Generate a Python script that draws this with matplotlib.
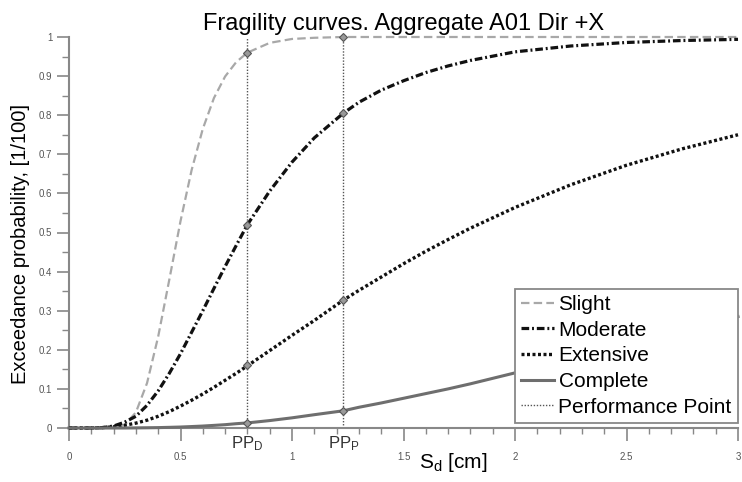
import numpy as np
import matplotlib
matplotlib.use("Agg")
from matplotlib import pyplot as plt
from matplotlib.lines import Line2D

plt.rcParams['font.family'] = ['Liberation Sans', 'DejaVu Sans']
plt.rcParams['mathtext.fontset'] = 'custom'
plt.rcParams['mathtext.rm'] = 'Liberation Sans'
plt.rcParams['mathtext.it'] = 'Liberation Sans:italic'

# spectral displacement [cm]
sd = [0, 0.1, 0.15, 0.2, 0.25, 0.3, 0.35, 0.4, 0.45, 0.5, 0.55, 0.6, 0.65, 0.7,
      0.75, 0.8, 0.9, 1.0, 1.1, 1.23, 1.3, 1.4, 1.5, 1.6, 1.7, 1.8, 2.0, 2.25, 2.5, 2.75, 3.0]

slight = [0, 0, 0, 0.001, 0.008, 0.040, 0.115, 0.234, 0.38, 0.529, 0.66, 0.765, 0.844, 0.899,
          0.936, 0.960, 0.985, 0.995, 0.998, 1.0, 1.0, 1.0, 1.0, 1.0, 1.0, 1.0, 1.0, 1.0, 1.0, 1.0, 1.0]
moderate = [0, 0, 0.001, 0.005, 0.015, 0.03, 0.058, 0.095, 0.14, 0.19, 0.245, 0.30, 0.357, 0.413,
            0.467, 0.52, 0.606, 0.68, 0.742, 0.805, 0.833, 0.864, 0.888, 0.909, 0.926, 0.94,
            0.962, 0.977, 0.986, 0.991, 0.994]
extensive = [0, 0.0001, 0.001, 0.003, 0.007, 0.0125, 0.02, 0.030, 0.042, 0.056, 0.071, 0.087, 0.104, 0.122,
             0.14, 0.159, 0.198, 0.237, 0.275, 0.327, 0.352, 0.386, 0.42, 0.452, 0.482, 0.511,
             0.564, 0.622, 0.672, 0.714, 0.750]
complete = [0, 0, 0, 0, 0, 0.0003, 0.0006, 0.001, 0.0017, 0.0025, 0.0037, 0.005, 0.0067, 0.0085,
            0.011, 0.013, 0.019, 0.026, 0.034, 0.044, 0.053, 0.064, 0.076, 0.088, 0.100, 0.113,
            0.141, 0.176, 0.213, 0.249, 0.285]

pp_x = [0.8, 1.23]
pp_names = ["PP$_\\mathrm{D}$", "PP$_\\mathrm{P}$"]
pp_slight = [0.96, 1.0]
pp_moderate = [0.52, 0.805]
pp_extensive = [0.16, 0.327]
pp_complete = [0.013, 0.044]

fig = plt.figure(figsize=(7.42, 4.82), dpi=100)
ax = fig.add_axes([69/742, 54/482, 669/742, 391/482])

ax.vlines(pp_x, 0, 1, colors="#555555", linestyles=(0, (1, 1.2)), linewidth=1.0, zorder=1)

l1, = ax.plot(sd, slight, color="#a8a8a8", lw=1.6, dashes=(3.8, 1.9), clip_on=False, zorder=3)
l2, = ax.plot(sd, moderate, color="#111111", lw=2.3, dashes=(2.4, 0.9, 0.6, 0.9), clip_on=False, zorder=3)
l3, = ax.plot(sd, extensive, color="#111111", lw=2.4, dashes=(0.9, 0.75), clip_on=False, zorder=3)
l4, = ax.plot(sd, complete, color="#6e6e6e", lw=2.2, clip_on=False, zorder=3)

for vals in (pp_slight, pp_moderate, pp_extensive, pp_complete):
    ax.plot(pp_x, vals, ls="none", marker="D", ms=4, mfc="#999999", mec="#555555", mew=0.8,
            clip_on=False, zorder=4)

ax.set_xlim(0, 3)
ax.set_ylim(0, 1)
ax.set_xticks([0, 0.5, 1, 1.5, 2, 2.5, 3])
ax.set_xticklabels(["0", "0.5", "1", "1.5", "2", "2.5", "3"])
ax.set_xticks(np.arange(0, 3.01, 0.1), minor=True)
ax.set_yticks(np.arange(0, 1.01, 0.1))
ax.set_yticklabels(["0", "0.1", "0.2", "0.3", "0.4", "0.5", "0.6", "0.7", "0.8", "0.9", "1"])
ax.set_yticks(np.arange(0, 1.01, 0.05), minor=True)

ax.tick_params(axis="both", which="major", labelsize=7, labelcolor="#555555", color="#888888", width=1.2)
ax.tick_params(axis="x", which="major", direction="out", length=9, pad=8)
ax.tick_params(axis="x", which="minor", direction="out", length=4, color="#888888", width=1.0)
ax.tick_params(axis="y", which="major", direction="out", length=9, pad=3)
ax.tick_params(axis="y", which="minor", direction="out", length=5, color="#888888", width=1.0)

for s in ("top", "right"):
    ax.spines[s].set_visible(False)
for s in ("left", "bottom"):
    ax.spines[s].set_color("#888888")
    ax.spines[s].set_linewidth(1.5)

for x, name in zip(pp_x, pp_names):
    ax.text(x, -0.016, name, transform=ax.get_xaxis_transform(), ha="center", va="top",
            fontsize=12, color="#333333")

ax.set_title("Fragility curves. Aggregate A01 Dir +X", fontsize=17, pad=5)
ax.set_ylabel("Exceedance probability, [1/100]", fontsize=14.5)
ax.yaxis.set_label_coords(-0.058, 0.47)
ax.set_xlabel("S$_\\mathrm{d}$ [cm]", fontsize=15)
ax.xaxis.set_label_coords(0.574, -0.058)

pp_handle = Line2D([], [], color="#555555", lw=1.0, linestyle=(0, (1, 1.2)))
leg = ax.legend([l1, l2, l3, l4, pp_handle],
                ["Slight", "Moderate", "Extensive", "Complete", "Performance Point"],
                loc="lower right", bbox_to_anchor=(1.0, 0.013), borderaxespad=0,
                fontsize=15, fancybox=False, framealpha=1, edgecolor="#888888",
                handlelength=1.6, handletextpad=0.2, labelspacing=0.32, borderpad=0.3)
leg.get_frame().set_linewidth(1.3)
leg.set_zorder(5)

fig.savefig("out.png", dpi=100)
